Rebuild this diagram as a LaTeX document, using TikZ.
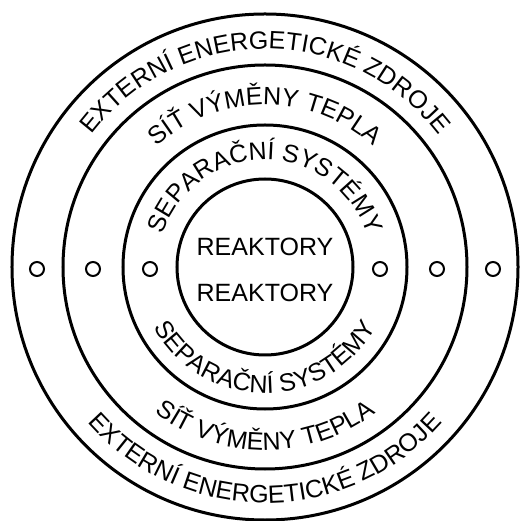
\documentclass[tikz,border=0pt]{standalone}
\usepackage{fontspec}
\setmainfont{Liberation Sans}
\usetikzlibrary{decorations.text,positioning}
\newcommand{\ringfont}{\fontsize{25pt}{30pt}\selectfont}

\begin{document}
\begin{tikzpicture}[x=1pt,y=1pt,font=\ringfont,
    ring/.style={circle,draw,line width=3pt,inner sep=0pt,outer sep=0pt},
    dot/.style={circle,draw,line width=2pt,minimum size=14pt,inner sep=0pt},
    arctext/.style={decorate,decoration={text along path,text align=center,
                    text={|\ringfont|#1}}}]

  \useasboundingbox (-265,-254) rectangle (254,267);
  \coordinate (c) at (0,0);

  % the four zones
  \node[ring,minimum size=506pt] (zdroje) at (c) {};
  \node[ring,minimum size=404pt] (teplo) at (c) {};
  \node[ring,minimum size=284pt] (separace) at (c) {};
  \node[ring,minimum size=176pt] (reaktor) at (c) {};

  \node (reak1) at (0,20) {REAKTORY};
  \node (reak2) at (0,-26) {REAKTORY};

  % small circles on the horizontal axis
  \foreach \r [count=\i] in {115,172,228} {
    \node[dot] (dl\i) at (-\r,-2) {};
    \node[dot] (dr\i) at (\r,-2) {};
  }

  % texts along the rings, upper half
  \path[arctext={EXTERNÍ ENERGETICKÉ ZDROJE}]
    (180:218) arc[start angle=180,end angle=0,radius=218];
  \path[arctext={SÍŤ VÝMĚNY TEPLA}]
    (180:162) arc[start angle=180,end angle=0,radius=162];
  \path[arctext={SEPARAČNÍ SYSTÉMY}]
    (180:107) arc[start angle=180,end angle=0,radius=107];

  % lower half
  \path[arctext={EXTERNÍ ENERGETICKÉ ZDROJE}]
    (180:236) arc[start angle=180,end angle=360,radius=236];
  \path[arctext={SÍŤ VÝMĚNY TEPLA}]
    (180:183) arc[start angle=180,end angle=360,radius=183];
  \path[arctext={SEPARAČNÍ SYSTÉMY}]
    (180:126) arc[start angle=180,end angle=360,radius=126];
\end{tikzpicture}
\end{document}
